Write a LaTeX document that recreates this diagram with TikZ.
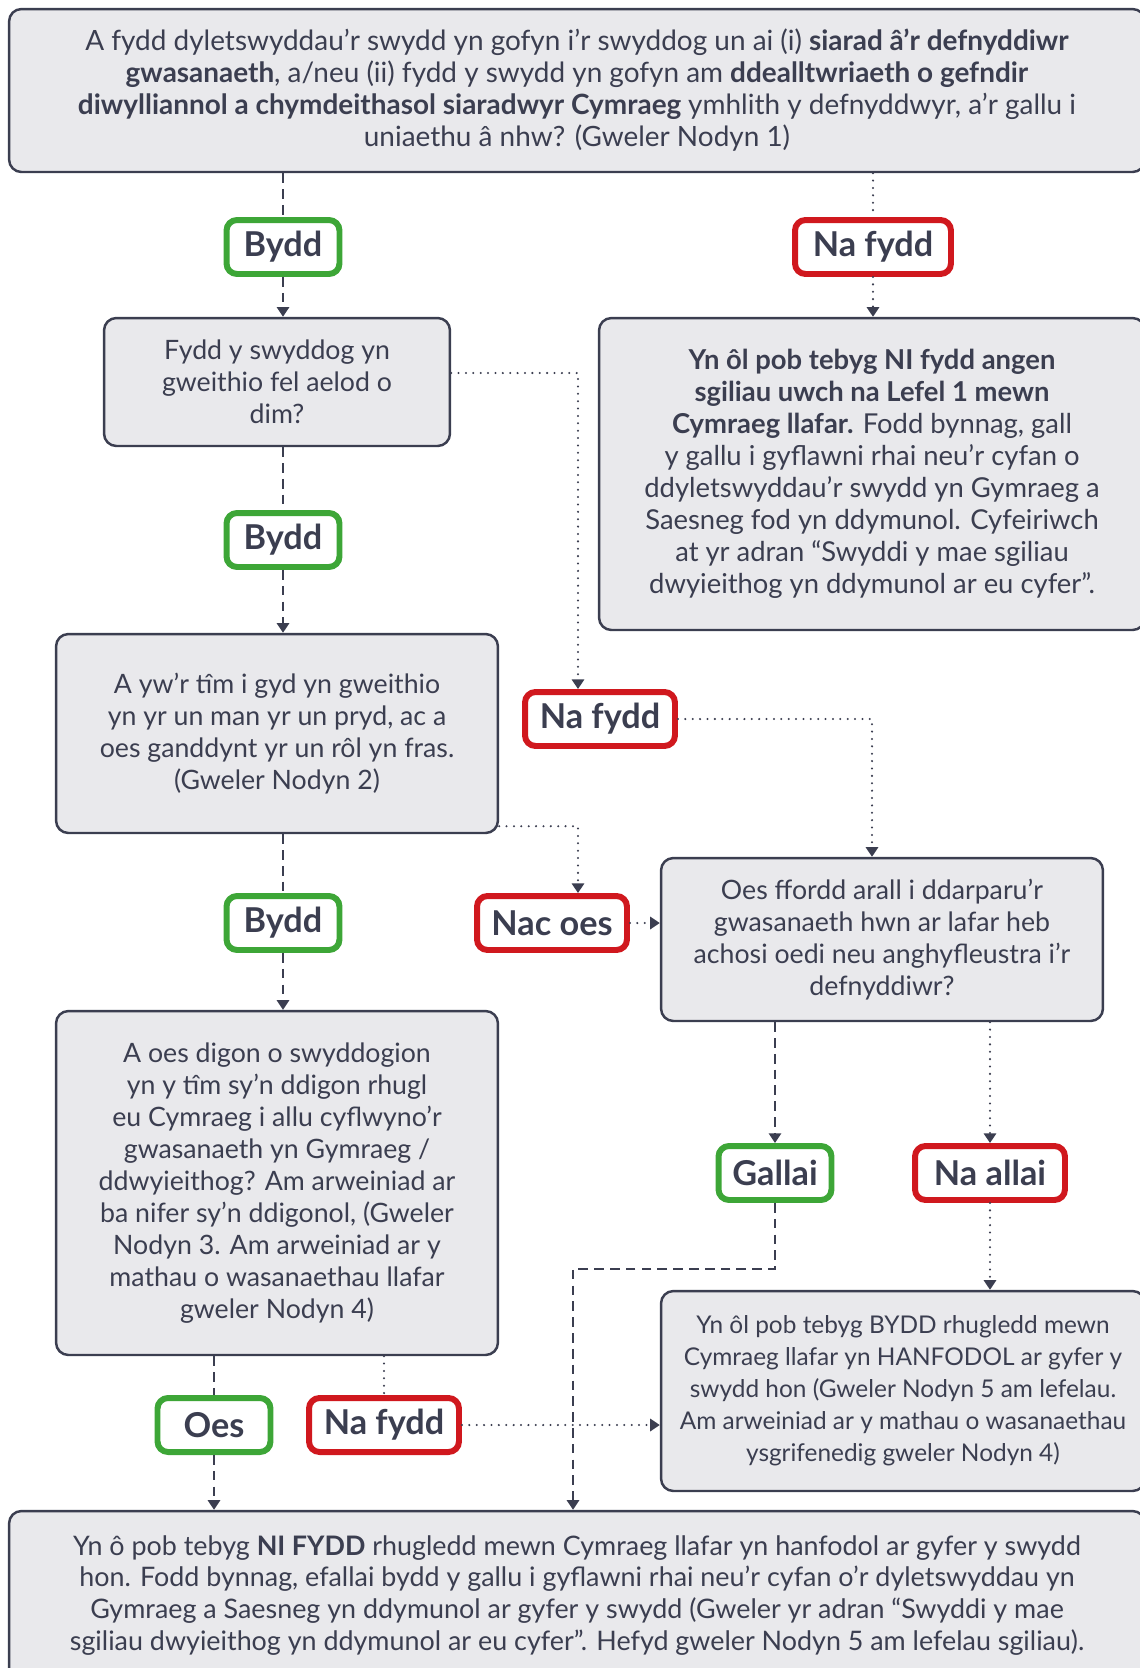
\documentclass[tikz,border=0pt]{standalone}
\usepackage{fontspec}
\setmainfont{Lato}
\usetikzlibrary{arrows.meta, positioning}
\definecolor{ink}{HTML}{3B3E50}
\definecolor{boxfill}{HTML}{E9E9EC}
\definecolor{yesgreen}{HTML}{3DA637}
\definecolor{nored}{HTML}{D0181E}

\begin{document}
\begin{tikzpicture}[
  x=0.02cm, y=-0.02cm,
  >={Triangle[width=7pt,length=5.5pt]},
  font=\fontsize{15.2}{18.2}\selectfont, text=ink,
  qbox/.style={draw=ink, fill=boxfill, line width=1.4pt, rounded corners=7pt, align=center},
  yeslabel/.style={draw=yesgreen, fill=white, line width=3.4pt, rounded corners=6pt, minimum height=1.08cm, minimum width=2.26cm, font=\fontsize{19.5}{22}\selectfont\bfseries},
  nolabel/.style={yeslabel, draw=nored, minimum width=3.0cm},
  yesline/.style={draw=ink, line width=1.1pt, dash pattern=on 5.5pt off 3.5pt},
  noline/.style={draw=ink, line width=1.3pt, line cap=round, dash pattern=on 0pt off 4.2pt}
]
  \useasboundingbox (0,0) rectangle (1140,1668);

  % cwestiynau ac atebion
  \node[qbox, minimum width=22.72cm, minimum height=3.26cm, font=\fontsize{15.9}{18.2}\selectfont] (duties) at (577,90.5)
    {A fydd dyletswyddau’r swydd yn gofyn i’r swyddog un ai (i) \textbf{siarad â’r defnyddiwr}\\
     \textbf{gwasanaeth}, a/neu (ii) fydd y swydd yn gofyn am \textbf{ddealltwriaeth o gefndir}\\
     \textbf{diwylliannol a chymdeithasol siaradwyr Cymraeg} ymhlith y defnyddwyr, a’r gallu i\\
     uniaethu â nhw? (Gweler Nodyn 1)};
  \node[yeslabel] (yes1) at (283,247) {Bydd};
  \node[nolabel, minimum width=3.12cm] (no1) at (873,247) {Na fydd};

  \node[qbox, minimum width=6.92cm, minimum height=2.56cm] (team) at (277,382)
    {Fydd y swyddog yn\\gweithio fel aelod o\\dim?};
  \node[qbox, minimum width=10.92cm, minimum height=6.24cm, font=\fontsize{15.6}{18.2}\selectfont] (notneeded) at (872,474)
    {\textbf{Yn ôl pob tebyg NI fydd angen}\\
     \textbf{sgiliau uwch na Lefel 1 mewn}\\
     \textbf{Cymraeg llafar.} Fodd bynnag, gall\\
     y gallu i gyflawni rhai neu’r cyfan o\\
     ddyletswyddau’r swydd yn Gymraeg a\\
     Saesneg fod yn ddymunol. Cyfeiriwch\\
     at yr adran “Swyddi y mae sgiliau\\
     dwyieithog yn ddymunol ar eu cyfer”.};
  \node[yeslabel] (yes2) at (283,540) {Bydd};

  \node[qbox, minimum width=8.84cm, minimum height=3.98cm] (sameplace) at (277,733.5)
    {A yw’r tîm i gyd yn gweithio\\yn yr un man yr un pryd, ac a\\oes ganddynt yr un rôl yn fras.\\(Gweler Nodyn 2)};
  \node[nolabel] (no2) at (600,719) {Na fydd};
  \node[yeslabel] (yes3) at (283,923) {Bydd};
  \node[nolabel] (nacoes) at (552,923) {Nac oes};
  \node[qbox, minimum width=8.84cm, minimum height=3.26cm] (otherway) at (882,939.5)
    {Oes ffordd arall i ddarparu’r\\gwasanaeth hwn ar lafar heb\\achosi oedi neu anghyfleustra i’r\\defnyddiwr?};

  \node[qbox, minimum width=8.84cm, minimum height=6.88cm] (enough) at (277,1183)
    {A oes digon o swyddogion\\yn y tîm sy’n ddigon rhugl\\eu Cymraeg i allu cyflwyno’r\\gwasanaeth yn Gymraeg /\\ddwyieithog? Am arweiniad ar\\ba nifer sy’n ddigonol, (Gweler\\Nodyn 3. Am arweiniad ar y\\mathau o wasanaethau llafar\\gweler Nodyn 4)};
  \node[yeslabel] (gallai) at (775,1173) {Gallai};
  \node[nolabel] (naallai) at (990,1173) {Na allai};
  \node[qbox, minimum width=9.68cm, minimum height=4.0cm, font=\fontsize{13.9}{18.2}\selectfont] (essential) at (903,1391)
    {Yn ôl pob tebyg BYDD rhugledd mewn\\Cymraeg llafar yn HANFODOL ar gyfer y\\swydd hon (Gweler Nodyn 5 am lefelau.\\Am arweiniad ar y mathau o wasanaethau\\ysgrifenedig gweler Nodyn 4)};
  \node[yeslabel] (oes) at (214,1425) {Oes};
  \node[nolabel] (no3) at (384,1425) {Na fydd};

  \node[qbox, minimum width=22.72cm, minimum height=3.38cm, font=\fontsize{15.3}{18.2}\selectfont] (desirable) at (577,1595.5)
    {Yn ô pob tebyg \textbf{NI FYDD} rhugledd mewn Cymraeg llafar yn hanfodol ar gyfer y swydd\\
     hon. Fodd bynnag, efallai bydd y gallu i gyflawni rhai neu’r cyfan o’r dyletswyddau yn\\
     Gymraeg a Saesneg yn ddymunol ar gyfer y swydd (Gweler yr adran “Swyddi y mae\\
     sgiliau dwyieithog yn ddymunol ar eu cyfer”. Hefyd gweler Nodyn 5 am lefelau sgiliau).};

  \coordinate (bend) at (573,1269);

  % llwybr "ie" (llinell doredig)
  \draw[yesline] (yes1 |- duties.south) -- (yes1);
  \draw[yesline,->] (yes1) -- (yes1 |- team.north);
  \draw[yesline] (yes2 |- team.south) -- (yes2);
  \draw[yesline,->] (yes2) -- (yes2 |- sameplace.north);
  \draw[yesline] (yes3 |- sameplace.south) -- (yes3);
  \draw[yesline,->] (yes3) -- (yes3 |- enough.north);
  \draw[yesline,->] (gallai |- otherway.south) -- (gallai);
  \draw[yesline,->] (gallai) |- (bend) -- (bend |- desirable.north);
  \draw[yesline] (oes |- enough.south) -- (oes);
  \draw[yesline,->] (oes) -- (oes |- desirable.north);

  % llwybr "na" (llinell ddotiog)
  \draw[noline] (no1 |- duties.south) -- (no1);
  \draw[noline,->] (no1) -- (no1 |- notneeded.north);
  \draw[noline,->] ([yshift=0.18cm]team.east) -| ([xshift=-0.44cm]no2.north);
  \draw[noline,->] (no2.east) -| ([xshift=-0.2cm]otherway.north);
  \draw[noline,->] ([yshift=0.16cm]sameplace.south east) -| ([xshift=0.52cm]nacoes.north);
  \draw[noline,->] (nacoes) -- (nacoes -| otherway.west);
  \draw[noline,->] (naallai |- otherway.south) -- (naallai);
  \draw[noline,->] (naallai) -- (naallai |- essential.north);
  \draw[noline] (no3 |- enough.south) -- (no3);
  \draw[noline,->] (no3) -- (no3 -| essential.west);
\end{tikzpicture}
\end{document}
